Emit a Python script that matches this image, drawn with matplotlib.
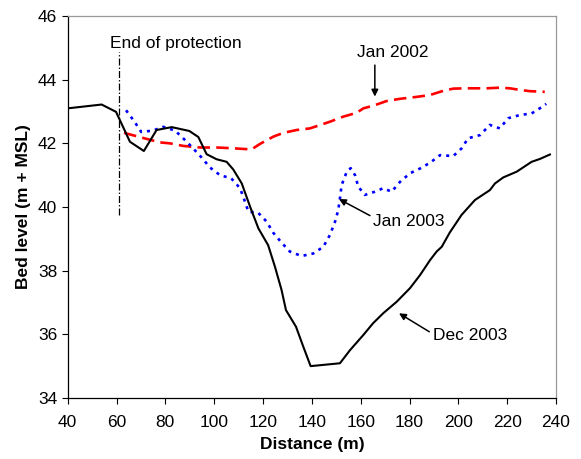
import matplotlib
matplotlib.use("Agg")
import matplotlib.pyplot as plt

plt.rcParams['font.family'] = ['Liberation Sans', 'DejaVu Sans']
plt.rcParams['lines.scale_dashes'] = False

# Bed level surveys along the channel
dec2003_x = [40, 53.9, 59.8, 65.5, 71.2, 76.4, 82.6, 89.8, 93.5, 96.9, 101, 105.1, 107.8,
             111.3, 114.7, 118.1, 122.1, 124.9, 127.6, 129.4, 133.5, 136.5, 139.5, 151.5,
             155.6, 161.1, 165.1, 169.2, 174.7, 180.2, 184.3, 188.4, 191.1, 193.2, 196.5,
             201.3, 206.8, 212.9, 215, 218.4, 223.9, 230, 233.4, 237.5]
dec2003_y = [43.1, 43.22, 42.99, 42.05, 41.76, 42.42, 42.51, 42.39, 42.2, 41.66, 41.5, 41.42,
             41.18, 40.74, 40.01, 39.33, 38.8, 38.12, 37.39, 36.76, 36.24, 35.61, 35.0, 35.09,
             35.5, 35.98, 36.35, 36.66, 37.02, 37.45, 37.86, 38.33, 38.6, 38.75, 39.2, 39.75,
             40.22, 40.53, 40.74, 40.93, 41.11, 41.42, 41.51, 41.65]

jan2002_x = [63.1, 68.9, 77.8, 81.9, 87.3, 94.2, 101, 106.5, 115.3, 118.7, 124.2, 128.3,
             133.8, 139.2, 147.4, 152.9, 158.3, 161.1, 165.8, 170.6, 176.1, 182.9, 188.4,
             193.8, 197.9, 203.4, 211.6, 217, 221.1, 225.2, 229.3, 235.4]
jan2002_y = [42.33, 42.21, 42.03, 42.0, 41.92, 41.87, 41.87, 41.85, 41.81, 41.98, 42.21, 42.33,
             42.42, 42.47, 42.68, 42.84, 42.96, 43.1, 43.2, 43.33, 43.4, 43.46, 43.52, 43.65,
             43.72, 43.73, 43.73, 43.75, 43.73, 43.68, 43.64, 43.62]

jan2003_x = [63.9, 67.2, 70.1, 74.8, 79.2, 84, 87.7, 91.4, 94.9, 98.3, 102.4, 107, 110.6,
             112.6, 114, 118, 121.5, 124.2, 127.6, 131, 135.8, 140.6, 144.7, 147.4, 149.5,
             150.8, 151.5, 152.2, 154.3, 155.9, 157.7, 159, 161.7, 165.8, 169.2, 172.7, 176.1,
             180.2, 184.3, 188.4, 192.5, 197.9, 201.3, 204, 208.9, 212.9, 217, 220.4, 225.2,
             230, 234.8, 236]
jan2003_y = [43.04, 42.7, 42.36, 42.4, 42.52, 42.4, 42.13, 41.84, 41.55, 41.24, 41.0, 40.9,
             40.59, 40.17, 39.85, 39.82, 39.54, 39.19, 38.88, 38.6, 38.46, 38.54, 38.75, 39.12,
             39.54, 39.9, 40.27, 40.69, 41.11, 41.22, 41.0, 40.64, 40.38, 40.48, 40.59, 40.48,
             40.79, 41.06, 41.21, 41.39, 41.63, 41.6, 41.84, 42.16, 42.26, 42.58, 42.47, 42.79,
             42.89, 42.94, 43.17, 43.24]

protection_end = 61
x_ticks = [40, 60, 80, 100, 120, 140, 160, 180, 200, 220, 240]
y_ticks = [34, 36, 38, 40, 42, 44, 46]

FS = 12.5

fig = plt.figure(figsize=(5.81, 4.59), dpi=100)
ax = fig.add_axes([0.1165, 0.133, 0.8405, 0.832])

ax.plot(jan2002_x, jan2002_y, color='red', lw=1.9, dashes=(9, 4.5))
ax.plot(jan2003_x, jan2003_y, color='blue', lw=1.9, dashes=(2.2, 3.6))
ax.plot(dec2003_x, dec2003_y, color='black', lw=1.5)

ax.plot([protection_end, protection_end], [39.75, 44.87], color='black', lw=0.9,
        dashes=(5, 1.5, 1, 1.5))
ax.text(57.3, 45.15, 'End of protection', fontsize=FS, va='center', ha='left')

arrow = dict(arrowstyle='-|>', color='black', lw=1.1, mutation_scale=10,
             shrinkA=0, shrinkB=0)
ax.annotate('', xy=(165.8, 43.47), xytext=(165.8, 44.46), arrowprops=arrow)
ax.text(173.3, 44.84, 'Jan 2002', fontsize=FS, ha='center', va='center')
ax.annotate('', xy=(151.1, 40.25), xytext=(163.8, 39.73), arrowprops=arrow)
ax.text(164.9, 39.54, 'Jan 2003', fontsize=FS, ha='left', va='center')
ax.annotate('', xy=(175.7, 36.66), xytext=(188.1, 36.08), arrowprops=arrow)
ax.text(189.7, 35.95, 'Dec 2003', fontsize=FS, ha='left', va='center')

ax.set_xlim(40, 240)
ax.set_ylim(34, 46)
ax.set_xticks(x_ticks)
ax.set_yticks(y_ticks)
ax.tick_params(labelsize=FS, length=4, width=0.8, direction='out')
ax.tick_params(axis='x', pad=8)
ax.set_xlabel('Distance (m)', fontsize=FS, fontweight='bold', labelpad=5)
ax.set_ylabel('Bed level (m + MSL)', fontsize=FS, fontweight='bold', labelpad=5)

for side in ('left', 'bottom'):
    ax.spines[side].set_color('black')
    ax.spines[side].set_linewidth(0.9)
for side in ('top', 'right'):
    ax.spines[side].set_color('#999999')
    ax.spines[side].set_linewidth(0.9)

fig.savefig('out.png', dpi=100)
